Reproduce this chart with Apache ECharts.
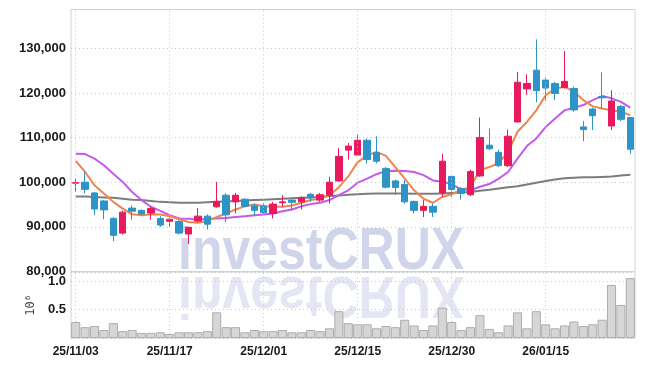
<!DOCTYPE html>
<html>
<head>
<meta charset="utf-8">
<script src="https://cdn.jsdelivr.net/npm/echarts@6/dist/echarts.min.js"></script>
<style>
html,body{margin:0;padding:0;background:#fff;}
#chart{width:645px;height:366px;}
</style>
</head>
<body>
<div id="chart"></div>
<script>
const dates = [
'25/11/03','25/11/04','25/11/05','25/11/06','25/11/07','25/11/10','25/11/11','25/11/12','25/11/13','25/11/14',
'25/11/17','25/11/18','25/11/19','25/11/20','25/11/21','25/11/24','25/11/25','25/11/26','25/11/27','25/11/28',
'25/12/01','25/12/02','25/12/03','25/12/04','25/12/05','25/12/08','25/12/09','25/12/10','25/12/11','25/12/12',
'25/12/15','25/12/16','25/12/17','25/12/18','25/12/19','25/12/22','25/12/23','25/12/24','25/12/26','25/12/29',
'25/12/30','26/01/02','26/01/05','26/01/06','26/01/07','26/01/08','26/01/09','26/01/12','26/01/13','26/01/14',
'26/01/15','26/01/16','26/01/19','26/01/20','26/01/21','26/01/22','26/01/23','26/01/26','26/01/27','26/01/28'];

const openP = [99800,100000,97600,95800,91900,88600,94200,93700,93100,91850,
91250,91200,88400,91300,92400,94500,97100,95600,96200,94700,
94700,93000,95400,96000,95600,97300,96000,97100,100300,107200,
106100,109400,106600,103100,100300,99500,95700,93700,94600,97600,
101300,98600,97200,101400,108300,106700,103700,113500,120900,125100,
122900,122100,121200,121000,112400,116400,119200,112600,117000,114500];
const closeP = [99900,98400,94000,93800,88100,93300,93500,92900,94100,90400,
91700,88600,89900,92400,90600,95700,92700,97100,94600,93700,
93200,95100,95600,95500,96500,96500,97200,100000,105800,108100,
109400,105100,104700,98900,98800,95600,93700,94600,93300,104700,
98400,97500,102400,110000,107500,103700,110300,122400,122100,120500,
121100,119900,122600,116200,111800,114900,118900,118200,114100,107400];
const lowP = [97800,97500,92600,91700,86800,88300,91600,92600,91600,90000,
90000,88300,86200,91000,89400,94300,91100,93000,94400,92400,
92800,91900,94500,93700,93900,95600,95600,95200,100070,105100,
106000,104200,104200,98600,97200,95200,93000,92200,92200,96700,
96700,96100,96900,101200,107200,103400,103400,113500,119600,117900,
118200,118400,121000,115800,109200,111700,116400,111700,113700,106400];
const highP = [100800,102300,97800,96000,92200,93600,94800,93900,94500,92400,
92100,91500,90000,94200,92800,100070,97500,97600,96400,95200,
95300,95600,97100,96100,96800,97600,97600,101200,107700,108800,
110800,109800,110300,103400,100600,100450,95900,96000,95200,106400,
101400,98900,102800,114500,112000,107300,111800,124700,124200,132000,
123500,122500,129400,121400,113700,116700,124600,120600,117300,114500];

const ma5 = [104800,102300,99300,97500,95600,94100,92800,92600,92800,92750,
92400,91700,91100,90900,91300,92200,93000,93900,94600,95000,
94600,94500,94500,94800,95400,96000,96300,97100,98900,101300,
104500,106000,106800,105900,103400,100800,98200,96300,95400,96700,
97300,98200,99000,102700,103400,104300,106800,111300,113500,116100,
119500,121000,121400,120300,118400,117000,116500,116100,115800,115000];
const ma20 = [106400,106300,105300,103800,101900,100070,97800,96000,94500,93600,
92600,91900,91800,91600,91800,91900,92000,92200,92400,92600,
92750,93000,93500,93900,94600,95100,95400,96000,97100,98200,
99900,100800,101800,102500,102600,102500,102300,101600,100400,100100,
99600,98400,98200,99000,99600,100800,102300,105300,108100,109800,
112400,114300,116100,116700,117300,118400,119300,118800,118000,116700];
const ma60 = [96800,96800,96700,96600,96500,96300,96100,96000,95800,95600,
95500,95400,95400,95400,95500,95600,95700,95800,95900,96000,
96100,96200,96300,96400,96500,96600,96700,96900,97000,97200,
97300,97400,97500,97500,97500,97500,97400,97400,97400,97500,
97600,97700,97800,98100,98300,98600,98900,99100,99500,99900,
100300,100600,100900,101000,101100,101100,101200,101300,101500,101700];

const volume = [0.28,0.19,0.21,0.14,0.26,0.12,0.14,0.09,0.09,0.10,
0.07,0.10,0.10,0.10,0.12,0.45,0.19,0.19,0.10,0.14,
0.12,0.12,0.14,0.10,0.10,0.14,0.12,0.17,0.47,0.26,
0.24,0.24,0.17,0.21,0.19,0.32,0.22,0.14,0.22,0.53,
0.28,0.14,0.19,0.40,0.16,0.10,0.22,0.45,0.17,0.47,
0.24,0.17,0.22,0.29,0.21,0.24,0.32,0.93,0.58,1.05];

const tickDates = ['25/11/03','25/11/17','25/12/01','25/12/15','25/12/30','26/01/15'];

const candleData = dates.map((d, i) => [openP[i], closeP[i], lowP[i], highP[i]]);

const labelFont = '"Liberation Sans",sans-serif';
const gridLineStyle = {type: [1, 3], color: '#c3c6da', width: 1};
const vLines = {
  silent: true, symbol: ['none', 'none'], label: {show: false}, animation: false,
  lineStyle: {type: [1, 3], color: '#c3c6da', width: 1},
  emphasis: {disabled: true},
  data: tickDates.map(d => ({xAxis: d}))
};

const chart = echarts.init(document.getElementById('chart'), null, {renderer: 'canvas'});
chart.setOption({
  animation: false,
  backgroundColor: '#ffffff',
  grid: [
    {left: 71, right: 10, top: 9.5, height: 262, show: true, borderColor: '#d4d4d8', borderWidth: 1, backgroundColor: 'transparent'},
    {left: 71, right: 10, top: 272, height: 66, show: true, borderColor: '#d4d4d8', borderWidth: 1, backgroundColor: 'transparent'}
  ],
  xAxis: [
    {type: 'category', gridIndex: 0, data: dates, boundaryGap: true,
     axisLine: {show: false}, axisTick: {show: false}, axisLabel: {show: false}, splitLine: {show: false}},
    {type: 'category', gridIndex: 1, data: dates, boundaryGap: true,
     axisLine: {show: false}, axisTick: {show: false},
     axisLabel: {show: true, interval: 9, margin: 8, color: '#1a1a1a', fontFamily: labelFont, fontWeight: 'bold', fontSize: 12},
     splitLine: {show: false}}
  ],
  yAxis: [
    {type: 'value', gridIndex: 0, min: 80000, max: 138700, interval: 10000,
     axisLine: {show: false}, axisTick: {show: false},
     axisLabel: {showMaxLabel: false, margin: 5, color: '#1a1a1a', fontFamily: labelFont, fontWeight: 'bold', fontSize: 13,
       formatter: v => v.toLocaleString('en-US')},
     splitLine: {show: true, lineStyle: gridLineStyle}},
    {type: 'value', gridIndex: 1, min: 0, max: 1.157, interval: 0.5,
     axisLine: {show: false}, axisTick: {show: false},
     axisLabel: {showMinLabel: false, showMaxLabel: false, margin: 5, color: '#1a1a1a', fontFamily: labelFont, fontWeight: 'bold', fontSize: 13,
       formatter: v => v.toFixed(1)},
     splitLine: {show: true, lineStyle: gridLineStyle},
     name: '10⁶', nameLocation: 'middle', nameRotate: 90, nameGap: 33,
     nameTextStyle: {fontFamily: '"DejaVu Sans Mono",monospace', fontSize: 12, color: '#444'}}
  ],
  graphic: [
    {type: 'group', x: 178, y: 273, z: 1, silent: true, children: [
      {type: 'text', scaleY: 1.18, style: {text: 'investCRUX', x: 0, y: -17, verticalAlign: 'middle',
        font: 'bold 50px "Liberation Sans",sans-serif', fill: 'rgba(178,185,220,0.6)'}},
      {type: 'text', scaleY: -1.18, style: {text: 'investCRUX', x: 0, y: -17, verticalAlign: 'middle',
        font: 'bold 50px "Liberation Sans",sans-serif', fill: 'rgba(188,194,225,0.4)'}}
    ]}
  ],
  series: [
    {type: 'bar', name: 'Volume', xAxisIndex: 1, yAxisIndex: 1, data: volume, barCategoryGap: '3%', z: 3,
     itemStyle: {color: '#d6d6d6', borderColor: '#adadad', borderWidth: 1}, markLine: vLines},
    {type: 'line', name: 'MA60', xAxisIndex: 0, yAxisIndex: 0, data: ma60, showSymbol: false, z: 3,
     lineStyle: {color: '#7c7c7c', width: 2}, markLine: vLines},
    {type: 'line', name: 'MA20', xAxisIndex: 0, yAxisIndex: 0, data: ma20, showSymbol: false, z: 3,
     lineStyle: {color: '#c65ae8', width: 2}},
    {type: 'line', name: 'MA5', xAxisIndex: 0, yAxisIndex: 0, data: ma5, showSymbol: false, z: 3,
     lineStyle: {color: '#ee8550', width: 2}},
    {type: 'candlestick', name: 'Price', xAxisIndex: 0, yAxisIndex: 0, data: candleData, barWidth: 7, z: 4,
     itemStyle: {color: '#e8195c', color0: '#2e93c7', borderColor: '#e8195c', borderColor0: '#2e93c7', borderWidth: 1}}
  ]
});
</script>
</body>
</html>
